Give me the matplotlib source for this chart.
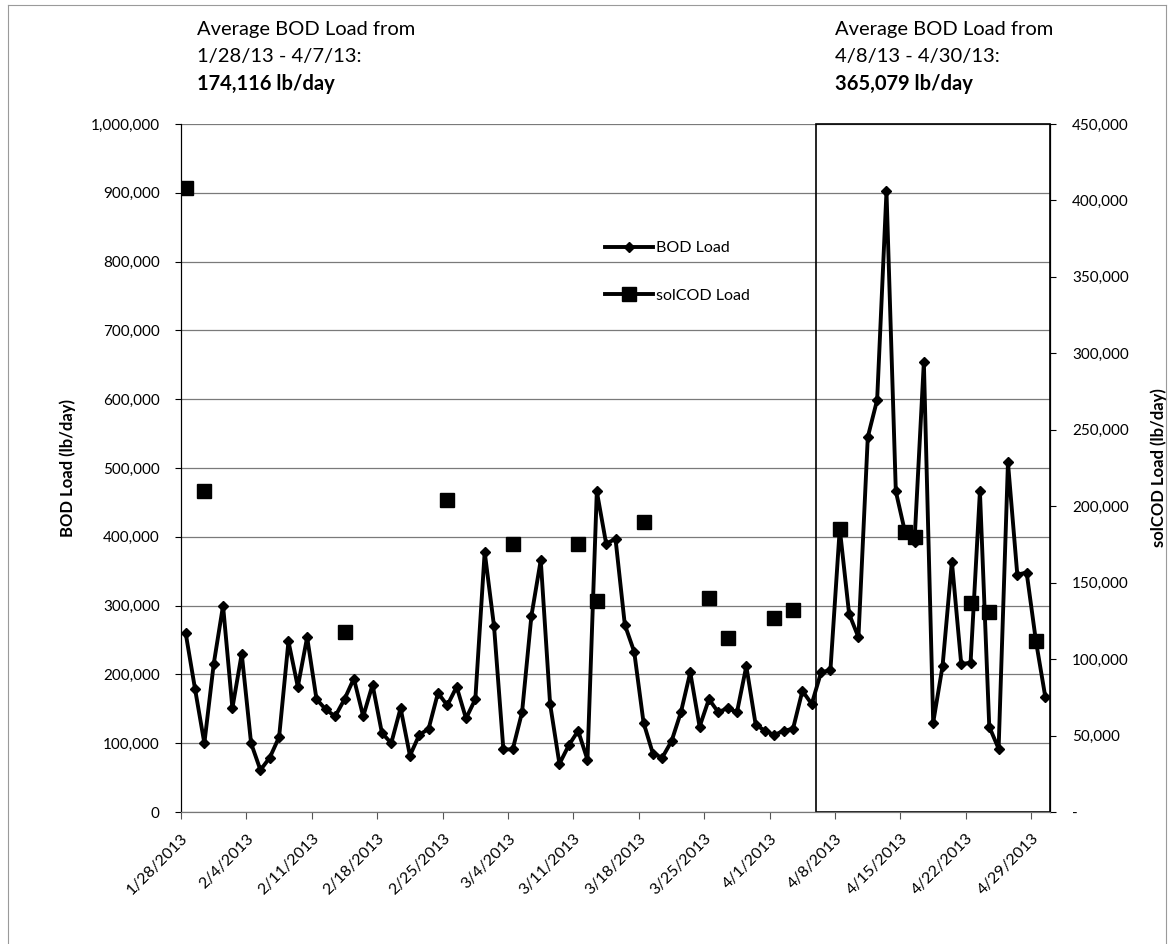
import matplotlib
matplotlib.use("Agg")
import matplotlib.pyplot as plt
import matplotlib.dates as mdates
from matplotlib.patches import Rectangle
from matplotlib.ticker import FuncFormatter, MultipleLocator
import numpy as np
import pandas as pd

plt.rcParams['font.family'] = ['Lato', 'DejaVu Sans']

# daily BOD load, 1/28/2013 - 4/30/2013 (lb/day, thousands)
bod_k = [260, 179, 100, 215, 300, 151, 230, 100, 61, 79, 109, 248, 182, 254, 164, 149, 139, 164, 194, 139,
         185, 115, 100, 151, 82, 112,
         121, 173, 155, 182, 136, 164, 378, 270, 91, 91, 145, 285, 366, 157, 70, 97, 118, 76, 466, 390,
         397, 272, 233, 130,
         85, 79, 103, 145, 203, 124, 164, 145, 151, 145, 212, 127, 118, 112, 118, 121, 176, 157, 203, 206,
         412, 288, 254, 545, 599, 902, 466, 406, 393, 654, 130, 212, 364, 215, 217, 466, 124, 92, 508,
         345, 348, 248, 167]

# solCOD samples (lb/day, thousands)
cod_dates = ['2013-01-28', '2013-01-30', '2013-02-14', '2013-02-25', '2013-03-04', '2013-03-11',
             '2013-03-13', '2013-03-18', '2013-03-25', '2013-03-27', '2013-04-01', '2013-04-03',
             '2013-04-08', '2013-04-15', '2013-04-16', '2013-04-22', '2013-04-24', '2013-04-29']
cod_k = [408, 210, 118, 204, 175, 175, 138, 190, 140, 114, 127, 132, 185, 183, 180, 137, 131, 112]

avg1_text = ["Average BOD Load from", "1/28/13 - 4/7/13:", "174,116 lb/day"]
avg2_text = ["Average BOD Load from", "4/8/13 - 4/30/13:", "365,079 lb/day"]

days = pd.date_range('2013-01-28', periods=len(bod_k), freq='D')
xpos = days + pd.Timedelta(hours=12)
bod = np.array(bod_k) * 1000.0
cod = pd.Series(np.nan, index=days)
cod[pd.to_datetime(cod_dates)] = np.array(cod_k) * 1000.0

W, H = 1172, 944
fig = plt.figure(figsize=(W / 100, H / 100), dpi=100)
ax = fig.add_axes([181 / W, 1 - 812 / H, (1050 - 181) / W, (812 - 124) / H])
ax2 = ax.twinx()

# figure border
for xs, ys in [([8, 8], [5, 944]), ([8, 1166], [5, 5]), ([1166, 1166], [5, 944])]:
    fig.add_artist(plt.Line2D(np.array(xs) / W, 1 - np.array(ys) / H, color='#9a9a9a', lw=0.8))

ax.plot(xpos, bod, color='black', lw=2.8, marker='D', ms=5.5, label='BOD Load', zorder=3)
ax2.plot(xpos, cod.values, color='black', lw=2.8, marker='s', ms=10.5, label='solCOD Load', zorder=3)

ax.set_xlim(days[0], days[-1] + pd.Timedelta(days=1))
ax.set_ylim(0, 1000000)
ax2.set_ylim(0, 450000)

ax.yaxis.set_major_locator(MultipleLocator(100000))
ax.yaxis.set_major_formatter(FuncFormatter(lambda v, p: f"{v:,.0f}"))
ax2.yaxis.set_major_locator(MultipleLocator(50000))
ax2.yaxis.set_major_formatter(FuncFormatter(lambda v, p: '-' if v == 0 else f"{v:,.0f}"))
ax.grid(axis='y', color='#7a7a7a', lw=0.9)
ax.set_axisbelow(True)

ticks = pd.date_range('2013-01-28', '2013-04-29', freq='7D')
ax.set_xticks(ticks)
ax.set_xticklabels([f"{d.month}/{d.day}/{d.year}" for d in ticks], rotation=45, ha='right',
                   rotation_mode='anchor', fontsize=11.5)
ax.tick_params(axis='x', direction='out', length=5, pad=9, color='#555555')
ax.tick_params(axis='y', direction='out', length=4.3, pad=11, labelsize=11)
ax2.tick_params(axis='y', direction='out', length=4.3, pad=11.5, labelsize=11)

for a in (ax, ax2):
    a.spines['top'].set_visible(False)
    a.spines['bottom'].set_color('#777777')
    a.spines['left'].set_color('black')
    a.spines['right'].set_color('black')

# box around the second period
x0 = mdates.date2num(pd.Timestamp('2013-04-06'))
x1 = mdates.date2num(days[-1] + pd.Timedelta(days=1))
ax.add_patch(Rectangle((x0, 0), x1 - x0, 1000000, fill=False, edgecolor='black', lw=1.2, zorder=2,
                       clip_on=False))

ax.set_ylabel('BOD Load (lb/day)', fontsize=12, fontweight='bold')
ax.yaxis.set_label_coords((76 - 181) / 869, 0.5)
ax2.set_ylabel('solCOD Load (lb/day)', fontsize=12, fontweight='bold')
ax2.yaxis.set_label_coords((1150 - 181) / 869, 0.5)

h1, l1 = ax.get_legend_handles_labels()
h2, l2 = ax2.get_legend_handles_labels()
fig.legend(h1 + h2, l1 + l2, loc='upper left', bbox_to_anchor=(605 / W, 1 - 241 / H), frameon=False,
           fontsize=11.5, handlelength=3.0, handletextpad=0.2, labelspacing=2.1, borderpad=0,
           borderaxespad=0)

for i, (t1, t2) in enumerate(zip(avg1_text, avg2_text)):
    w = 'bold' if i == 2 else 'normal'
    y = 1 - (29 + 27.5 * i) / H
    fig.text(197 / W, y, t1, fontsize=14.5, fontweight=w, va='center', ha='left')
    fig.text(835 / W, y, t2, fontsize=14.5, fontweight=w, va='center', ha='left')

fig.savefig('out.png', dpi=100, facecolor='white')
